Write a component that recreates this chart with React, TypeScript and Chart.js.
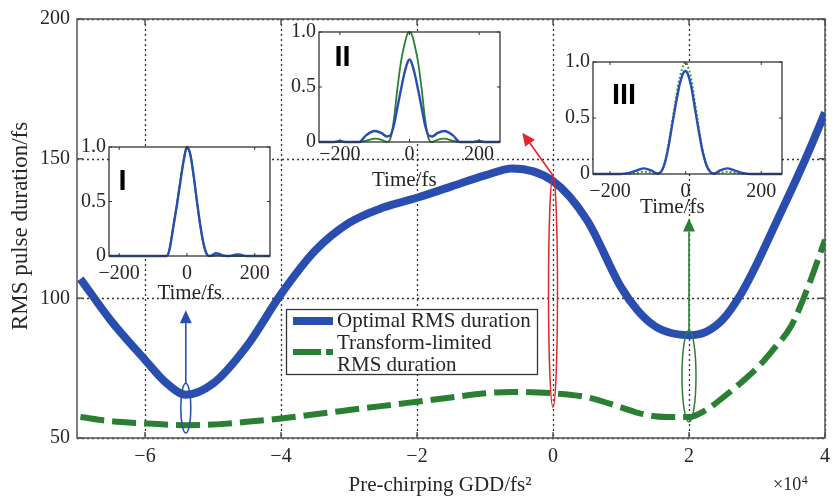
import React, { useEffect, useRef } from 'react';
import { Chart, registerables } from 'chart.js';
Chart.register(...registerables);

const SERIF = "'Liberation Serif', 'Times New Roman', Times, serif";
const SANS = "'Liberation Sans', Arial, sans-serif";
const INK = '#262626';
const BLUE = '#2a4eb0';
const GREEN = '#2b7f35';
const RED = '#e2262c';

// ---------- main chart data (GDD in 1e4 fs^2, RMS in fs) ----------
const gdd = [-6.95, -6.5, -6, -5.7, -5.4, -5, -4.5, -4, -3.5, -3, -2.5, -2, -1.5, -1, -0.6, 0, 0.5, 1, 1.25, 1.5, 1.75, 2, 2.25, 2.5, 2.75, 3, 3.25, 3.5, 3.75, 4];
const optimalRms = [107, 92, 78, 70, 65.5, 69.5, 83, 101.5, 117, 127, 132.5, 136, 140, 144, 146.5, 142, 128, 104, 95.5, 90, 87.5, 86.8, 88, 92.5, 101, 112.5, 125.5, 138.5, 152, 166.5];
const transformLimitedRms = [57.5, 56, 55.2, 54.8, 54.6, 54.8, 55.8, 57, 58.5, 60, 61.5, 63, 64.5, 66, 66.5, 66, 64.6, 61, 59, 57.8, 57.5, 57.5, 60, 64.5, 69.5, 75, 82, 90, 104, 121];
const gddTicks = [-6, -4, -2, 0, 2, 4];
const rmsTicks = [50, 100, 150, 200];

// ---------- markers (ellipses + arrows), in data units ----------
const markerGdd = [-5.4, 0, 2];
const markerLow = [51.8, 61, 55.7];
const markerHigh = [69.6, 144, 88.6];
const arrowTipGdd = [-5.4, -0.45, 2];
const arrowTipRms = [95.7, 159.3, 128.6];
const markerColors = [BLUE, RED, GREEN];
const markerWidths = [10, 9, 14];

// ---------- insets (time in fs, normalized intensity) ----------
const timeTicks = [-200, 0, 200];
const ampTicks = [0, 0.5, 1];

const timeI = [-230, -150, -100, -70, -60, -55, -50, -40, -30, -20, -10, 0, 10, 20, 30, 40, 50, 58, 65, 75, 85, 95, 105, 120, 135, 148, 160, 175, 245];
const optimalI = [0, 0, 0, 0, 0, 0.02, 0.08, 0.27, 0.46, 0.67, 0.87, 1.0, 0.93, 0.73, 0.49, 0.27, 0.1, 0.02, 0, 0.01, 0.025, 0.02, 0.005, 0, 0.005, 0.015, 0.01, 0, 0];
const limitedI = [0, 0, 0, 0, 0, 0.02, 0.09, 0.28, 0.47, 0.68, 0.88, 1.0, 0.93, 0.73, 0.48, 0.26, 0.09, 0.02, 0, 0, 0.005, 0.005, 0, 0, 0, 0, 0, 0, 0];

const timeII = [-260, -215, -200, -185, -145, -125, -100, -80, -65, -55, -45, -35, -25, -15, -5, 0, 5, 15, 25, 35, 45, 55, 65, 80, 100, 125, 145, 185, 200, 215, 260];
const optimalII = [0, 0, 0.01, 0, 0, 0.06, 0.1, 0.08, 0.05, 0.06, 0.15, 0.31, 0.47, 0.62, 0.73, 0.75, 0.73, 0.62, 0.47, 0.31, 0.15, 0.06, 0.05, 0.08, 0.1, 0.06, 0, 0, 0.01, 0, 0];
const limitedII = [0, 0, 0, 0, 0, 0.01, 0.03, 0.02, 0, 0.03, 0.2, 0.48, 0.72, 0.88, 0.99, 1.0, 0.99, 0.88, 0.72, 0.48, 0.2, 0.03, 0, 0.02, 0.03, 0.01, 0, 0, 0, 0, 0];

const timeIII = [-245, -170, -150, -130, -110, -90, -75, -65, -55, -45, -35, -25, -15, -5, 0, 5, 15, 25, 35, 45, 55, 65, 75, 90, 110, 130, 150, 170, 255];
const optimalIII = [0, 0, 0.01, 0.03, 0.05, 0.03, 0.005, 0.02, 0.1, 0.25, 0.45, 0.64, 0.81, 0.91, 0.92, 0.9, 0.78, 0.58, 0.38, 0.2, 0.08, 0.02, 0.005, 0.03, 0.05, 0.03, 0.01, 0, 0];
const limitedIII = [0, 0, 0, 0.01, 0.02, 0.01, 0, 0.02, 0.1, 0.27, 0.48, 0.69, 0.87, 0.98, 1.0, 0.97, 0.85, 0.63, 0.41, 0.21, 0.08, 0.02, 0, 0.01, 0.02, 0.01, 0, 0, 0];

const fmt = (v: number) => (v < 0 ? '\u2212' + Math.abs(v) : String(v));

function arrow(ctx: CanvasRenderingContext2D, x0: number, y0: number, x1: number, y1: number, color: string) {
  const ang = Math.atan2(y1 - y0, x1 - x0);
  const L = 13, W = 6;
  const bx = x1 - L * Math.cos(ang), by = y1 - L * Math.sin(ang);
  ctx.strokeStyle = color;
  ctx.fillStyle = color;
  ctx.lineWidth = 1.6;
  ctx.beginPath();
  ctx.moveTo(x0, y0);
  ctx.lineTo(bx, by);
  ctx.stroke();
  ctx.beginPath();
  ctx.moveTo(x1, y1);
  ctx.lineTo(bx + W * Math.sin(ang), by - W * Math.cos(ang));
  ctx.lineTo(bx - W * Math.sin(ang), by + W * Math.cos(ang));
  ctx.closePath();
  ctx.fill();
}

function MainChart() {
  const ref = useRef<HTMLCanvasElement>(null);
  useEffect(() => {
    const decor = {
      id: 'decor',
      beforeDatasetsDraw(chart: any) {
        const { ctx, chartArea: ca, scales } = chart;
        const x = scales.x, y = scales.y;
        ctx.save();
        ctx.strokeStyle = '#333';
        ctx.lineWidth = 1.3;
        ctx.setLineDash([2, 3]);
        for (const v of gddTicks) {
          const px = Math.round(x.getPixelForValue(v)) + 0.5;
          ctx.beginPath(); ctx.moveTo(px, ca.top); ctx.lineTo(px, ca.bottom); ctx.stroke();
        }
        for (const v of rmsTicks) {
          const py = Math.round(y.getPixelForValue(v)) + 0.5;
          ctx.beginPath(); ctx.moveTo(ca.left, py); ctx.lineTo(ca.right, py); ctx.stroke();
        }
        ctx.setLineDash([]);
        ctx.strokeStyle = '#555';
        ctx.lineWidth = 1.5;
        ctx.strokeRect(ca.left, ca.top, ca.right - ca.left, ca.bottom - ca.top);
        for (const v of gddTicks) {
          const px = x.getPixelForValue(v);
          ctx.beginPath(); ctx.moveTo(px, ca.bottom); ctx.lineTo(px, ca.bottom - 6);
          ctx.moveTo(px, ca.top); ctx.lineTo(px, ca.top + 6); ctx.stroke();
        }
        for (const v of rmsTicks) {
          const py = y.getPixelForValue(v);
          ctx.beginPath(); ctx.moveTo(ca.left, py); ctx.lineTo(ca.left + 6, py);
          ctx.moveTo(ca.right, py); ctx.lineTo(ca.right - 6, py); ctx.stroke();
        }
        ctx.restore();
      },
      afterDatasetsDraw(chart: any) {
        const { ctx, scales } = chart;
        const x = scales.x, y = scales.y;
        ctx.save();
        // ellipses and arrows
        for (let i = 0; i < markerGdd.length; i++) {
          const cx = x.getPixelForValue(markerGdd[i]);
          const yTop = y.getPixelForValue(markerHigh[i]);
          const yBot = y.getPixelForValue(markerLow[i]);
          ctx.strokeStyle = markerColors[i];
          ctx.lineWidth = 1.5;
          ctx.beginPath();
          ctx.ellipse(cx, (yTop + yBot) / 2, markerWidths[i] / 2, (yBot - yTop) / 2, 0, 0, Math.PI * 2);
          ctx.stroke();
          arrow(ctx, cx, yTop, x.getPixelForValue(arrowTipGdd[i]), y.getPixelForValue(arrowTipRms[i]), markerColors[i]);
        }
        // legend
        const ds = chart.data.datasets;
        const L = 286, T = 309, R = 537, B = 374;
        ctx.fillStyle = '#fff';
        ctx.fillRect(L, T, R - L, B - T);
        ctx.strokeStyle = '#333';
        ctx.lineWidth = 1.3;
        ctx.strokeRect(L + 0.5, T + 0.5, R - L, B - T);
        ctx.lineCap = 'butt';
        ctx.strokeStyle = ds[0].borderColor;
        ctx.lineWidth = ds[0].borderWidth;
        ctx.beginPath(); ctx.moveTo(293, 321); ctx.lineTo(333, 321); ctx.stroke();
        ctx.strokeStyle = ds[1].borderColor;
        ctx.lineWidth = ds[1].borderWidth;
        ctx.setLineDash([28, 5]);
        ctx.beginPath(); ctx.moveTo(293, 352); ctx.lineTo(333, 352); ctx.stroke();
        ctx.setLineDash([]);
        ctx.fillStyle = INK;
        ctx.font = `21px ${SERIF}`;
        ctx.textAlign = 'left';
        ctx.textBaseline = 'middle';
        ctx.fillText(ds[0].label, 337, 321);
        ctx.fillText('Transform-limited', 337, 343);
        ctx.fillText('RMS duration', 337, 365);
        // axis titles
        ctx.textAlign = 'center';
        ctx.font = `21px ${SERIF}`;
        ctx.fillText('Pre-chirping GDD/fs\u00B2', 440, 485);
        ctx.save();
        ctx.translate(21, 226);
        ctx.rotate(-Math.PI / 2);
        ctx.font = `23px ${SERIF}`;
        ctx.fillText('RMS pulse duration/fs', 0, 0);
        ctx.restore();
        // x10^4
        ctx.textAlign = 'left';
        ctx.textBaseline = 'alphabetic';
        ctx.font = `18px ${SERIF}`;
        ctx.fillText('\u00D710', 773, 490);
        const w = ctx.measureText('\u00D710').width;
        ctx.font = `12px ${SERIF}`;
        ctx.fillText('4', 773 + w + 0.5, 484);
        ctx.restore();
      },
    };
    const chart = new Chart(ref.current as HTMLCanvasElement, {
      type: 'line',
      data: {
        datasets: [
          {
            label: 'Optimal RMS duration',
            data: gdd.map((g, i) => ({ x: g, y: optimalRms[i] })),
            borderColor: BLUE,
            borderWidth: 8,
            pointRadius: 0,
            cubicInterpolationMode: 'monotone',
            borderCapStyle: 'butt',
            fill: false,
          },
          {
            label: 'Transform-limited RMS duration',
            data: gdd.map((g, i) => ({ x: g, y: transformLimitedRms[i] })),
            borderColor: GREEN,
            borderWidth: 6,
            borderDash: [24, 8],
            pointRadius: 0,
            cubicInterpolationMode: 'monotone',
            borderCapStyle: 'butt',
            fill: false,
          },
        ],
      } as any,
      options: {
        responsive: false,
        animation: false,
        devicePixelRatio: 1,
        events: [],
        layout: { padding: { top: 18, right: 13, left: 0, bottom: 0 } },
        plugins: { legend: { display: false }, tooltip: { enabled: false } },
        scales: {
          x: {
            type: 'linear',
            min: -7,
            max: 4,
            afterBuildTicks: (s: any) => { s.ticks = gddTicks.map((v) => ({ value: v })); },
            afterFit: (s: any) => { s.height = 60; },
            grid: { display: false, drawTicks: false },
            border: { display: false },
            ticks: { padding: 7, color: INK, font: { family: SERIF, size: 20 }, autoSkip: false, maxRotation: 0, callback: (v: any) => fmt(Number(v)) },
          },
          y: {
            type: 'linear',
            min: 50,
            max: 200,
            afterBuildTicks: (s: any) => { s.ticks = rmsTicks.map((v) => ({ value: v })); },
            afterFit: (s: any) => { s.width = 77; },
            grid: { display: false, drawTicks: false },
            border: { display: false },
            ticks: { padding: 7, color: INK, font: { family: SERIF, size: 20 }, autoSkip: false, callback: (v: any) => fmt(Number(v)) },
          },
        },
      } as any,
      plugins: [decor],
    });
    return () => chart.destroy();
  }, []);
  return <canvas ref={ref} width={838} height={498} style={{ position: 'absolute', left: 0, top: 0 }} />;
}

type InsetProps = {
  box: { l: number; t: number; r: number; b: number };
  tMin: number;
  tMax: number;
  time: number[];
  optimal: number[];
  limited: number[];
  limitedDotted?: boolean;
  tag: string;
  tagDx: number;
  tagDy: number;
  titleAt: number;
  titleDy: number;
  tickPad: number;
};

const PADL = 45, PADT = 12, PADR = 12, PADB = 50;

function Inset(p: InsetProps) {
  const ref = useRef<HTMLCanvasElement>(null);
  const w = p.box.r - p.box.l + PADL + PADR;
  const h = p.box.b - p.box.t + PADT + PADB;
  useEffect(() => {
    const deco = {
      id: 'insetDeco',
      beforeDatasetsDraw(chart: any) {
        const { ctx, chartArea: ca } = chart;
        ctx.save();
        ctx.fillStyle = '#fff';
        ctx.fillRect(ca.left, ca.top, ca.right - ca.left, ca.bottom - ca.top);
        ctx.restore();
      },
      afterDatasetsDraw(chart: any) {
        const { ctx, chartArea: ca, scales } = chart;
        const x = scales.x, y = scales.y;
        ctx.save();
        ctx.strokeStyle = '#333';
        ctx.lineWidth = 1.3;
        ctx.strokeRect(ca.left, ca.top, ca.right - ca.left, ca.bottom - ca.top);
        ctx.lineWidth = 1;
        for (const v of timeTicks) {
          const px = x.getPixelForValue(v);
          ctx.beginPath(); ctx.moveTo(px, ca.bottom); ctx.lineTo(px, ca.bottom - 3);
          ctx.moveTo(px, ca.top); ctx.lineTo(px, ca.top + 3); ctx.stroke();
        }
        for (const v of ampTicks) {
          const py = y.getPixelForValue(v);
          ctx.beginPath(); ctx.moveTo(ca.left, py); ctx.lineTo(ca.left + 3, py);
          ctx.moveTo(ca.right, py); ctx.lineTo(ca.right - 3, py); ctx.stroke();
        }
        // roman tag
        ctx.fillStyle = '#000';
        ctx.font = `bold 29px ${SANS}`;
        ctx.textAlign = 'center';
        ctx.textBaseline = 'alphabetic';
        ctx.fillText(p.tag, ca.left + p.tagDx, ca.top + p.tagDy + 10.4);
        // title
        ctx.fillStyle = INK;
        ctx.font = `21px ${SERIF}`;
        ctx.textBaseline = 'middle';
        ctx.fillText('Time/fs', x.getPixelForValue(p.titleAt), ca.bottom + p.titleDy);
        ctx.restore();
      },
    };
    const chart = new Chart(ref.current as HTMLCanvasElement, {
      type: 'line',
      data: {
        datasets: [
          {
            data: p.time.map((t, i) => ({ x: t, y: p.optimal[i] })),
            borderColor: BLUE,
            borderWidth: 2.4,
            pointRadius: 0,
            cubicInterpolationMode: 'monotone',
            clip: 4,
          },
          {
            data: p.time.map((t, i) => ({ x: t, y: p.limited[i] })),
            borderColor: p.limitedDotted ? '#3c9a3c' : GREEN,
            borderWidth: p.limitedDotted ? 2 : 1.8,
            borderDash: p.limitedDotted ? [2, 2] : [],
            pointRadius: 0,
            cubicInterpolationMode: 'monotone',
            clip: 4,
          },
        ],
      } as any,
      options: {
        responsive: false,
        animation: false,
        devicePixelRatio: 1,
        events: [],
        layout: { padding: { top: PADT, right: PADR, left: 0, bottom: 0 } },
        plugins: { legend: { display: false }, tooltip: { enabled: false } },
        scales: {
          x: {
            type: 'linear',
            min: p.tMin,
            max: p.tMax,
            afterBuildTicks: (s: any) => { s.ticks = timeTicks.map((v) => ({ value: v })); },
            afterFit: (s: any) => { s.height = PADB; },
            grid: { display: false, drawTicks: false },
            border: { display: false },
            ticks: { padding: p.tickPad, color: INK, font: { family: SERIF, size: 20 }, autoSkip: false, maxRotation: 0, callback: (v: any) => fmt(Number(v)) },
          },
          y: {
            type: 'linear',
            min: 0,
            max: 1,
            afterBuildTicks: (s: any) => { s.ticks = ampTicks.map((v) => ({ value: v })); },
            afterFit: (s: any) => { s.width = PADL; },
            grid: { display: false, drawTicks: false },
            border: { display: false },
            ticks: { padding: 3, color: INK, font: { family: SERIF, size: 20 }, autoSkip: false, callback: (v: any) => (Number(v) === 0 ? '0' : Number(v).toFixed(1)) },
          },
        },
      } as any,
      plugins: [deco],
    });
    return () => chart.destroy();
  }, []);
  return (
    <canvas
      ref={ref}
      width={w}
      height={h}
      style={{ position: 'absolute', left: p.box.l - PADL, top: p.box.t - PADT }}
    />
  );
}

export default function App() {
  return (
    <div style={{ position: 'fixed', left: 0, top: 0, width: 838, height: 498, background: '#fff', overflow: 'hidden' }}>
      <MainChart />
      <Inset box={{ l: 109, t: 144, r: 270, b: 256 }} tMin={-230} tMax={245} time={timeI} optimal={optimalI} limited={limitedI}
        tag="I" tagDx={13.5} tagDy={33} titleAt={8} titleDy={37} tickPad={6} />
      <Inset box={{ l: 319, t: 29, r: 500, b: 142 }} tMin={-260} tMax={260} time={timeII} optimal={optimalII} limited={limitedII}
        tag="II" tagDx={23.5} tagDy={24} titleAt={-15} titleDy={38} tickPad={1} />
      <Inset box={{ l: 593, t: 59, r: 782, b: 174 }} tMin={-245} tMax={255} time={timeIII} optimal={optimalIII} limited={limitedIII} limitedDotted
        tag="III" tagDx={31} tagDy={31.5} titleAt={-35} titleDy={33} tickPad={6} />
    </div>
  );
}
